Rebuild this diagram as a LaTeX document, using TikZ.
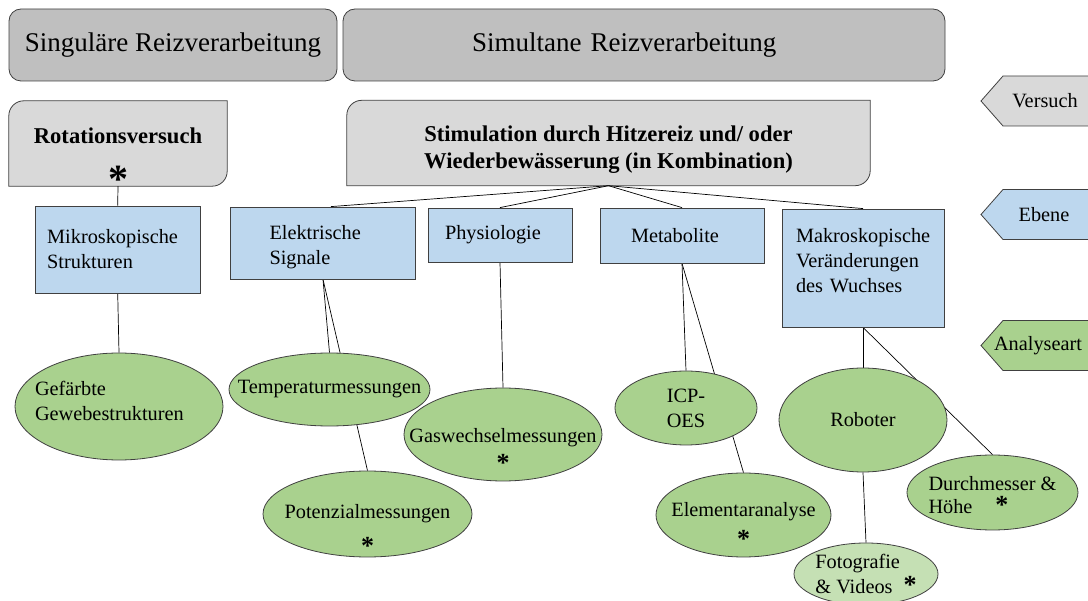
\documentclass[tikz,border=0pt]{standalone}
\usepackage{fontspec}
\setmainfont{Liberation Serif}
\usetikzlibrary{shapes.geometric, backgrounds}

\definecolor{headgray}{HTML}{BFBFBF}
\definecolor{versuchgray}{HTML}{D9D9D9}
\definecolor{ebeneblue}{HTML}{BDD7EE}
\definecolor{analysegreen}{HTML}{A9D18E}
\definecolor{fotogreen}{HTML}{C5E0B4}

\newcommand{\stern}[1][26]{{\fontsize{#1}{#1}\selectfont\bfseries *}}
\newcommand{\sternmid}[1][26]{\raisebox{-0.45em}{\stern[#1]}}

\begin{document}
\begin{tikzpicture}[x=1pt, y=-1pt,
    every node/.style={font=\fontsize{20.3}{25}\selectfont},
    frame/.style={draw=black!75, line width=0.8pt},
    link/.style={draw=black, line width=0.7pt},
    head/.style={frame, fill=headgray, rounded corners=12pt, minimum height=72pt, inner xsep=0pt, font=\fontsize{27}{32}\selectfont},
    versuch/.style={minimum height=85pt, inner ysep=0pt, align=center, font=\bfseries\fontsize{22.6}{26}\selectfont},
    ebene/.style={frame, fill=ebeneblue, align=left},
    analyse/.style={ellipse, frame, fill=analysegreen, inner xsep=-120pt, inner ysep=-30pt, align=center}
  ]
\useasboundingbox (0,0) rectangle (1088,601);

% Top row
\node[head, minimum width=328pt] (singular) at (173,45) {Singuläre Reizverarbeitung};
\node[head, text width=344pt, inner xsep=129pt, align=left] (simultan) at (644,45) {Simultane Reizverarbeitung};

% Versuche
\node[versuch, minimum width=218pt, text height=78pt, text depth=0pt] (rot) at (118,143.5) {Rotationsversuch\\[12.6pt]\sternmid[40]};
\node[versuch, minimum width=523pt, text height=52pt, text depth=0pt] (stim) at (608.5,143) {Stimulation durch Hitzereiz und/ oder\\[1pt]Wiederbewässerung (in Kombination)};

% Ebenen
\node[ebene, text width=141pt, inner xsep=12pt, minimum height=87pt] (mikro) at (117.7,249.5) {Mikroskopische\\Strukturen};
\node[ebene, text width=107pt, inner xsep=39pt, minimum height=72pt, text height=14pt, text depth=20pt] (elek) at (323,243) {Elektrische\\Signale};
\node[ebene, text width=110pt, inner xsep=17pt, minimum height=54pt] (phys) at (500,235) {Physiologie};
\node[ebene, text width=102pt, inner xsep=31pt, minimum height=55pt] (metab) at (682,235.5) {Metabolite};
\node[ebene, text width=134pt, inner xsep=14pt, minimum height=118pt, text height=14pt, text depth=64pt] (makro) at (863,268) {Makroskopische\\Veränderungen\\des Wuchses};

% Analysearten
\node[analyse, minimum width=208pt, minimum height=107pt, text width=168pt, align=left, text height=10pt, text depth=31pt] (gefaerbt) at (119,406.5) {Gefärbte\\Gewebestrukturen};
\node[analyse, minimum width=201pt, minimum height=73pt] (temp) at (329.5,389.5) {Temperaturmessungen};
\node[analyse, minimum width=209pt, minimum height=86pt, text height=62pt, text depth=0pt] (poten) at (367.5,514) {Potenzialmessungen\\[1pt]\sternmid};
\node[analyse, minimum width=198pt, minimum height=93pt, text height=55pt, text depth=0pt] (gas) at (503,434.5) {Gaswechselmessungen\\[-6pt]\sternmid};
\node[analyse, minimum width=142pt, minimum height=74pt, align=left] (icp) at (686,408) {ICP-\\OES};
\node[analyse, minimum width=175pt, minimum height=84pt, text height=46pt, text depth=0pt] (elem) at (743.5,515) {Elementaranalyse\\[-4pt]\sternmid};
\node[analyse, minimum width=168pt, minimum height=104pt] (robo) at (863,420) {Roboter};
\node[analyse, minimum width=171pt, minimum height=75pt, align=left, text height=43pt, text depth=0pt] (durch) at (992.5,492.5) {Durchmesser \&\\[-2pt]Höhe\hspace{23pt}\stern};
\node[analyse, fill=fotogreen, minimum width=144pt, minimum height=62pt, align=left] (foto) at (866,574) {Fotografie\\\& Videos\hspace{11pt}\stern};

% Legende rechts
\foreach \ypos/\xtxt/\txt/\col in {101/1045/Versuch/versuchgray, 214.5/1044/Ebene/ebeneblue, 345.5/1038/Analyseart/analysegreen} {
  \draw[frame, fill=\col] (981,\ypos) -- ++(22,-25) -- ++(120,0) -- ++(0,50) -- ++(-120,0) -- cycle;
  \node (tag-\txt) at (\xtxt,\ypos) {\txt};
}

% Rahmen und Verbindungen hinter den Knoten
\begin{pgfonlayer}{background}
  \foreach \n in {rot, stim}
    \draw[frame, fill=versuchgray] (\n.south west) -- ([yshift=-15pt]\n.north west)
      .. controls ([yshift=-6.7pt]\n.north west) and ([xshift=6.7pt]\n.north west) .. ([xshift=15pt]\n.north west)
      -- (\n.north east) -- ([yshift=15pt]\n.south east)
      .. controls ([yshift=6.7pt]\n.south east) and ([xshift=-6.7pt]\n.south east) .. ([xshift=-15pt]\n.south east)
      -- cycle;
  \draw[link] (rot.south) -- (mikro.north);
  \draw[link] (stim.south) -- ([xshift=8pt]elek.north);
  \foreach \lvl in {phys, metab, makro}
    \draw[link] (stim.south) -- (\lvl.north);
  \draw[link] (mikro.south) -- (gefaerbt.north);
  \draw[link] (elek.south) -- (temp.north);
  \draw[link] (elek.south) -- (poten.north);
  \draw[link] (phys.south) -- (gas.north);
  \draw[link] (metab.south) -- (icp.north);
  \draw[link] (metab.south) -- (elem.north);
  \draw[link] (makro.south) -- (robo.north);
  \draw[link] (makro.south) -- (durch.north);
  \draw[link] (robo.south) -- (foto.north);
\end{pgfonlayer}
\end{tikzpicture}
\end{document}
